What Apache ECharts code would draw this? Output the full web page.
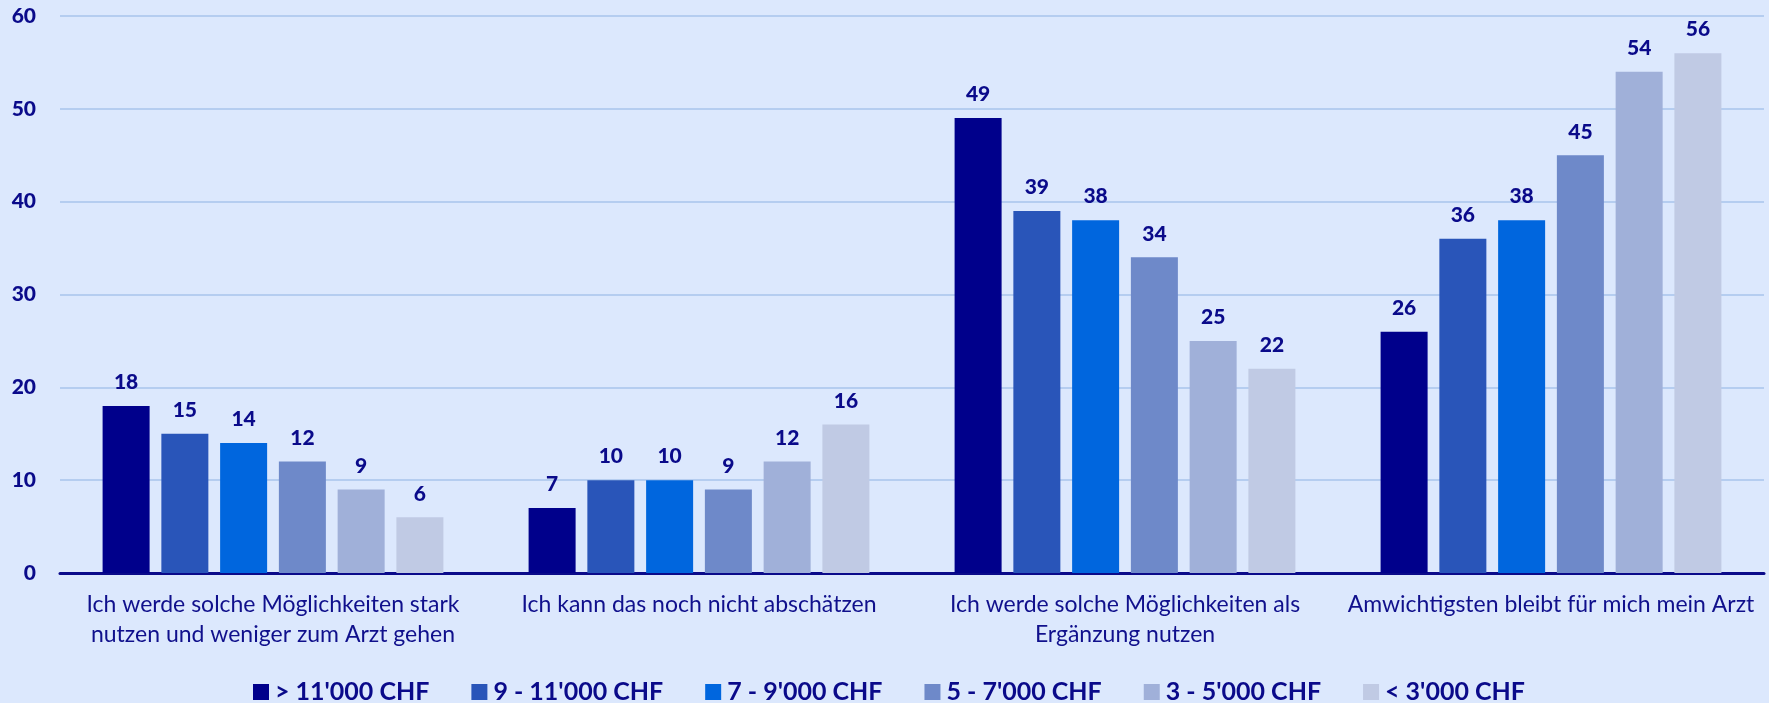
<!DOCTYPE html>
<html>
<head>
<meta charset="utf-8">
<script src="https://cdn.jsdelivr.net/npm/echarts@6/dist/echarts.min.js"></script>
<style>
  html, body { margin: 0; padding: 0; background: #dce8fd; }
  #chart { width: 1769px; height: 703px; }
</style>
</head>
<body>
<div id="chart"></div>
<script>
// Kategorien (x-Achse)
var categories = [
    'Ich werde solche Möglichkeiten stark\nnutzen und weniger zum Arzt gehen',
    'Ich kann das noch nicht abschätzen',
    'Ich werde solche Möglichkeiten als\nErgänzung nutzen',
    'Amwichtigsten bleibt für mich mein Arzt'
];
var seriesNames = ["> 11'000 CHF", "9 - 11'000 CHF", "7 - 9'000 CHF", "5 - 7'000 CHF", "3 - 5'000 CHF", "< 3'000 CHF"];
var colors = ['#00008b', '#2955b9', '#0066de', '#6e89c9', '#a0b0d9', '#c0cae4'];

// Werte je Einkommensgruppe
var inc11 = [18, 7, 49, 26];
var inc9 = [15, 10, 39, 36];
var inc7 = [14, 10, 38, 38];
var inc5 = [12, 9, 34, 45];
var inc3 = [9, 12, 25, 54];
var incLow = [6, 16, 22, 56];
var yTicks = [0, 10, 20, 30, 40, 50, 60];

var allData = [inc11, inc9, inc7, inc5, inc3, incLow];
var navy = '#0a0a8a';
var font = 'Lato';

var series = allData.map(function (d, i) {
    return {
        name: seriesNames[i],
        type: 'bar',
        data: d,
        barGap: '25%',
        barCategoryGap: '20%',
        itemStyle: { color: colors[i] },
        label: {
            show: true,
            position: 'top',
            distance: 13,
            color: navy,
            fontFamily: font,
            fontWeight: 900,
            fontSize: 21
        }
    };
});

var chart = echarts.init(document.getElementById('chart'));
chart.setOption({
    backgroundColor: '#dce8fd',
    animation: false,
    color: colors,
    grid: { left: 60, right: 5, top: 16, bottom: 130 },
    legend: {
        left: 248,
        top: 673,
        itemWidth: 16,
        itemHeight: 16,
        itemGap: 42,
        icon: 'rect',
        textStyle: { color: navy, fontFamily: font, fontWeight: 'bold', fontSize: 25, lineHeight: 28, padding: [0, 0, 0, 1] },
        data: seriesNames
    },
    xAxis: {
        type: 'category',
        data: categories,
        axisTick: { show: false },
        axisLine: { lineStyle: { color: '#0a0a8a', width: 3 } },
        axisLabel: {
            color: '#10108c',
            fontFamily: font,
            fontSize: 23,
            lineHeight: 30,
            margin: 17,
            interval: 0
        }
    },
    yAxis: {
        type: 'value',
        min: yTicks[0],
        max: yTicks[yTicks.length - 1],
        interval: 10,
        axisLabel: {
            color: navy,
            fontFamily: font,
            fontWeight: 900,
            fontSize: 21,
            margin: 24
        },
        splitLine: { lineStyle: { color: '#b5cdf0', width: 2 } }
    },
    series: series
});
</script>
</body>
</html>
